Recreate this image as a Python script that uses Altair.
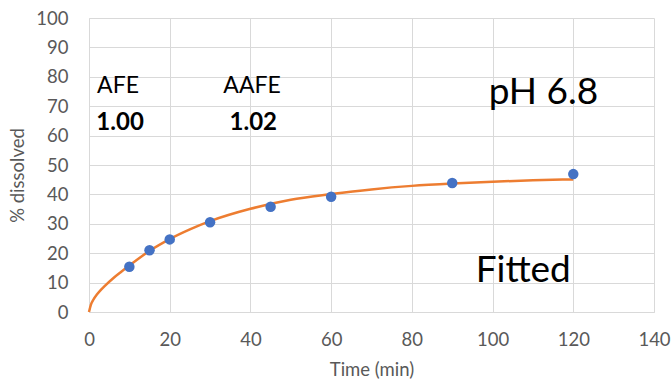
import altair as alt
import pandas as pd

# Measured data points
time_pts = [10, 15, 20, 30, 45, 60, 90, 120]
dissolved_pts = [15.4, 21.0, 24.7, 30.5, 35.8, 39.2, 43.9, 46.9]

# Fitted curve
fit_t = [0, 0.5, 1, 2, 3, 4, 6, 8, 10, 15, 20, 25, 30, 40, 50, 60, 70, 80, 90, 100, 110, 120]
fit_y = [0, 2.6, 4.0, 6.0, 7.6, 9.0, 11.5, 13.7, 15.8, 20.8, 24.8, 28.1, 30.9, 35.1, 38.2, 40.1, 41.7, 42.9, 43.7, 44.3, 44.8, 45.1]

# Annotations
ann_text = ["AFE", "AAFE"]
ann_x = [7.2, 40.4]
ann_y = [77, 77]
val_text = ["1.00", "1.02"]
val_x = [7.7, 40.7]
val_y = [64.2, 64.2]
big_text = ["pH 6.8", "Fitted"]
big_x = [112.6, 107.6]
big_y = [74.4, 13.8]

pts = pd.DataFrame({"t": time_pts, "y": dissolved_pts})
fit = pd.DataFrame({"t": fit_t, "y": fit_y})
ann = pd.DataFrame({"t": ann_x, "y": ann_y, "label": ann_text})
val = pd.DataFrame({"t": val_x, "y": val_y, "label": val_text})
big = pd.DataFrame({"t": big_x, "y": big_y, "label": big_text})

FONT = "Lato"

xscale = alt.Scale(domain=[0, 140], nice=False)
yscale = alt.Scale(domain=[0, 100], nice=False)

x_enc = alt.X("t:Q", scale=xscale,
              axis=alt.Axis(title="Time (min)", values=list(range(0, 141, 20)),
                            labelOverlap=False, labelFlush=False))
y_enc = alt.Y("y:Q", scale=yscale,
              axis=alt.Axis(title="% dissolved", values=list(range(0, 101, 10)),
                            labelOverlap=False, labelFlush=False, titleY=157))

line = alt.Chart(fit).mark_line(color="#ED7D31", strokeWidth=2.5, interpolate="monotone").encode(
    x=x_enc, y=y_enc)
points = alt.Chart(pts).mark_circle(color="#4472C4", size=110, opacity=1).encode(
    x=x_enc, y=y_enc)
ann_l = alt.Chart(ann).mark_text(font=FONT, fontSize=23, color="black", baseline="middle").encode(
    x=x_enc, y=y_enc, text="label:N")
val_l = alt.Chart(val).mark_text(font=FONT, fontSize=24, fontWeight="bold", color="black", baseline="middle").encode(
    x=x_enc, y=y_enc, text="label:N")
big_l = alt.Chart(big).mark_text(font=FONT, fontSize=37, color="black", baseline="middle").encode(
    x=x_enc, y=y_enc, text="label:N")

chart = alt.layer(line, points, ann_l, val_l, big_l).properties(
    width=565, height=294,
    autosize=alt.AutoSizeParams(type="none"),
    padding={"left": 89, "top": 18, "right": 17, "bottom": 70},
).configure_view(strokeWidth=0).configure_axis(
    grid=True, gridColor="#d9d9d9", gridWidth=1,
    domainColor="#d9d9d9", domainWidth=1,
    ticks=False,
    labelFont=FONT, labelFontSize=18.5, labelColor="#595959",
    titleFont=FONT, titleFontSize=18.5, titleColor="#595959", titleFontWeight="normal",
).configure_axisX(labelPadding=18, titlePadding=12).configure_axisY(
    labelPadding=21, titlePadding=8)

chart.save("out.html", embed_options={"renderer": "svg", "actions": False})
